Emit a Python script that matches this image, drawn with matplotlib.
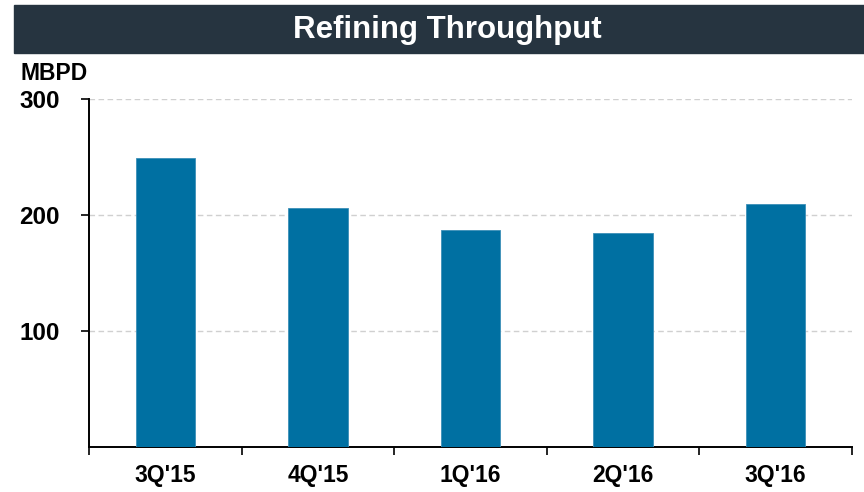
import matplotlib.pyplot as plt
from matplotlib.patches import Rectangle
import numpy as np

quarters = ["3Q'15", "4Q'15", "1Q'16", "2Q'16", "3Q'16"]
throughput = [249, 206, 187, 184, 209]
y_ticks = [100, 200, 300]

BAR = "#0070A2"
BAND = "#263440"

plt.rcParams.update({
    "font.family": ["Liberation Sans", "DejaVu Sans"],
    "font.weight": "bold",
})

fig = plt.figure(figsize=(8.64, 4.92), dpi=100)
ax = fig.add_axes([0.103, 0.0915, 0.883, 0.7075])

# title band
fig.patches.append(Rectangle((14 / 864, 1 - 53 / 492), 1 - 14 / 864, 48 / 492,
                             transform=fig.transFigure, color=BAND, zorder=0))
fig.text(447 / 864, 1 - 30 / 492, "Refining Throughput", color="white", fontsize=22.5,
         fontweight="bold", ha="center", va="center")
fig.text(20 / 864, 1 - 74 / 492, "MBPD", fontsize=16.5, fontweight="bold",
         ha="left", va="center")

x = np.arange(len(quarters))
ax.bar(x, throughput, width=0.39, color=BAR, edgecolor="#3C8FB8", linewidth=0.6, zorder=3)

ax.set_xlim(-0.5, len(quarters) - 0.5)
ax.set_ylim(0, 300)
ax.set_yticks(y_ticks)
ax.set_yticklabels([str(v) for v in y_ticks], fontsize=17.5, fontweight="bold")
ax.yaxis.grid(True, color="#D0D0D0", linestyle=(0, (4, 2.5)), linewidth=1.0, zorder=0)

ax.set_xticks(x)
ax.set_xticklabels(quarters, fontsize=16.5, fontweight="bold")
ax.tick_params(axis="x", which="major", length=0, pad=12)
ax.set_xticks(np.arange(-0.5, len(quarters)), minor=True)
ax.tick_params(axis="x", which="minor", length=6, width=1.2, direction="out")
ax.tick_params(axis="y", length=6, width=1.2, pad=15)

for side in ["top", "right"]:
    ax.spines[side].set_visible(False)
ax.spines["left"].set_linewidth(1.4)
ax.spines["bottom"].set_linewidth(1.4)

fig.savefig("out.png", dpi=100)
